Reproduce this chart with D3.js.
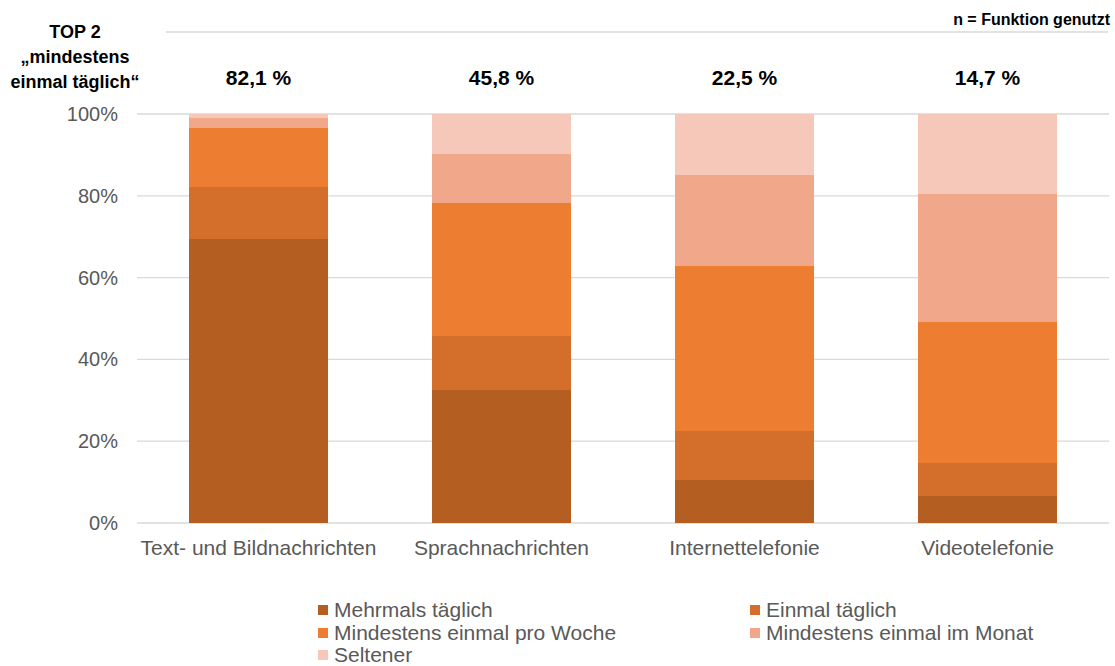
<!DOCTYPE html>
<html>
<head>
<meta charset="utf-8">
<script src="https://cdn.jsdelivr.net/npm/d3@7"></script>
<style>
  body { margin: 0; background: #fff; }
  text { font-family: "Liberation Sans", Arial, sans-serif; }
</style>
</head>
<body>
<div id="chart"></div>
<script>
var categories = ['Text- und Bildnachrichten', 'Sprachnachrichten', 'Internettelefonie', 'Videotelefonie'];
var seriesNames = ['Mehrmals täglich', 'Einmal täglich', 'Mindestens einmal pro Woche', 'Mindestens einmal im Monat', 'Seltener'];
var mehrmals = [69.4, 32.4, 10.4, 6.5];
var einmal = [12.7, 13.4, 12.1, 8.2];
var woche = [14.5, 32.4, 40.3, 34.4];
var monat = [2.5, 12.0, 22.3, 31.3];
var seltener = [0.9, 9.8, 14.9, 19.6];
var top2Labels = ['82,1 %', '45,8 %', '22,5 %', '14,7 %'];
var yTicks = [0, 20, 40, 60, 80, 100];
var colors = ['#b45e22', '#d36f2b', '#ed7d31', '#f1a88a', '#f6c8b9'];

var width = 1115, height = 666;
var margin = {left: 137, right: 6, top: 114, bottom: 143};

var svg = d3.select('#chart').append('svg').attr('width', width).attr('height', height);

var table = categories.map(function(c, i) {
  return {cat: c, s0: mehrmals[i], s1: einmal[i], s2: woche[i], s3: monat[i], s4: seltener[i]};
});
var stack = d3.stack().keys(['s0', 's1', 's2', 's3', 's4']);
var layers = stack(table);

var x = d3.scaleBand().domain(categories).range([margin.left, width - margin.right]).paddingInner(0.428).paddingOuter(0.214);
var y = d3.scaleLinear().domain([0, 100]).range([height - margin.bottom, margin.top]);

// gridlines
svg.append('g').selectAll('line').data(yTicks).enter().append('line')
  .attr('x1', margin.left).attr('x2', width - margin.right)
  .attr('y1', d => y(d)).attr('y2', d => y(d))
  .attr('stroke', '#d9d9d9').attr('stroke-width', 1.3);

// y labels
svg.append('g').selectAll('text').data(yTicks).enter().append('text')
  .attr('x', 118).attr('y', d => y(d)).attr('dy', '0.35em')
  .attr('text-anchor', 'end').attr('fill', '#595959').style('font-size', '20px')
  .text(d => d + '%');

// bars
svg.append('g').attr('shape-rendering', 'crispEdges').selectAll('g').data(layers).enter().append('g')
  .attr('fill', (d, i) => colors[i])
  .selectAll('rect').data(d => d).enter().append('rect')
  .attr('x', d => x(d.data.cat))
  .attr('width', x.bandwidth())
  .attr('y', d => y(d[1]))
  .attr('height', d => y(d[0]) - y(d[1]));

// category labels
svg.append('g').selectAll('text').data(categories).enter().append('text')
  .attr('x', d => x(d) + x.bandwidth() / 2).attr('y', 548).attr('dy', '0.35em')
  .attr('text-anchor', 'middle').attr('fill', '#595959').style('font-size', '21px')
  .text(d => d);

// top-2 labels
svg.append('g').selectAll('text').data(top2Labels).enter().append('text')
  .attr('x', (d, i) => x(categories[i]) + x.bandwidth() / 2).attr('y', 78).attr('dy', '0.35em')
  .attr('text-anchor', 'middle').attr('fill', '#000').style('font-size', '21px').style('font-weight', 'bold')
  .text(d => d);

// header
svg.append('line').attr('x1', 166).attr('x2', 1108).attr('y1', 32).attr('y2', 32)
  .attr('stroke', '#d9d9d9').attr('stroke-width', 1.3);
svg.append('text').attr('x', 1110).attr('y', 19).attr('dy', '0.35em').attr('text-anchor', 'end')
  .style('font-size', '16px').style('font-weight', 'bold').text('n = Funktion genutzt');
var head = ['TOP 2', '„mindestens', 'einmal täglich“'];
svg.append('g').selectAll('text').data(head).enter().append('text')
  .attr('x', 75).attr('y', (d, i) => 32 + i * 25).attr('dy', '0.35em').attr('text-anchor', 'middle')
  .style('font-size', '18px').style('font-weight', 'bold').text(d => d);

// legend
var legPos = [[318, 610], [750, 610], [318, 633], [750, 633], [318, 655]];
var leg = svg.append('g').selectAll('g').data(seriesNames).enter().append('g')
  .attr('transform', (d, i) => 'translate(' + legPos[i][0] + ',' + legPos[i][1] + ')');
leg.append('rect').attr('x', 0).attr('y', -5).attr('width', 10).attr('height', 10).attr('fill', (d, i) => colors[i]);
leg.append('text').attr('x', 16).attr('y', 0).attr('dy', '0.35em').attr('fill', '#595959')
  .style('font-size', '21px').text(d => d);
</script>
</body>
</html>
